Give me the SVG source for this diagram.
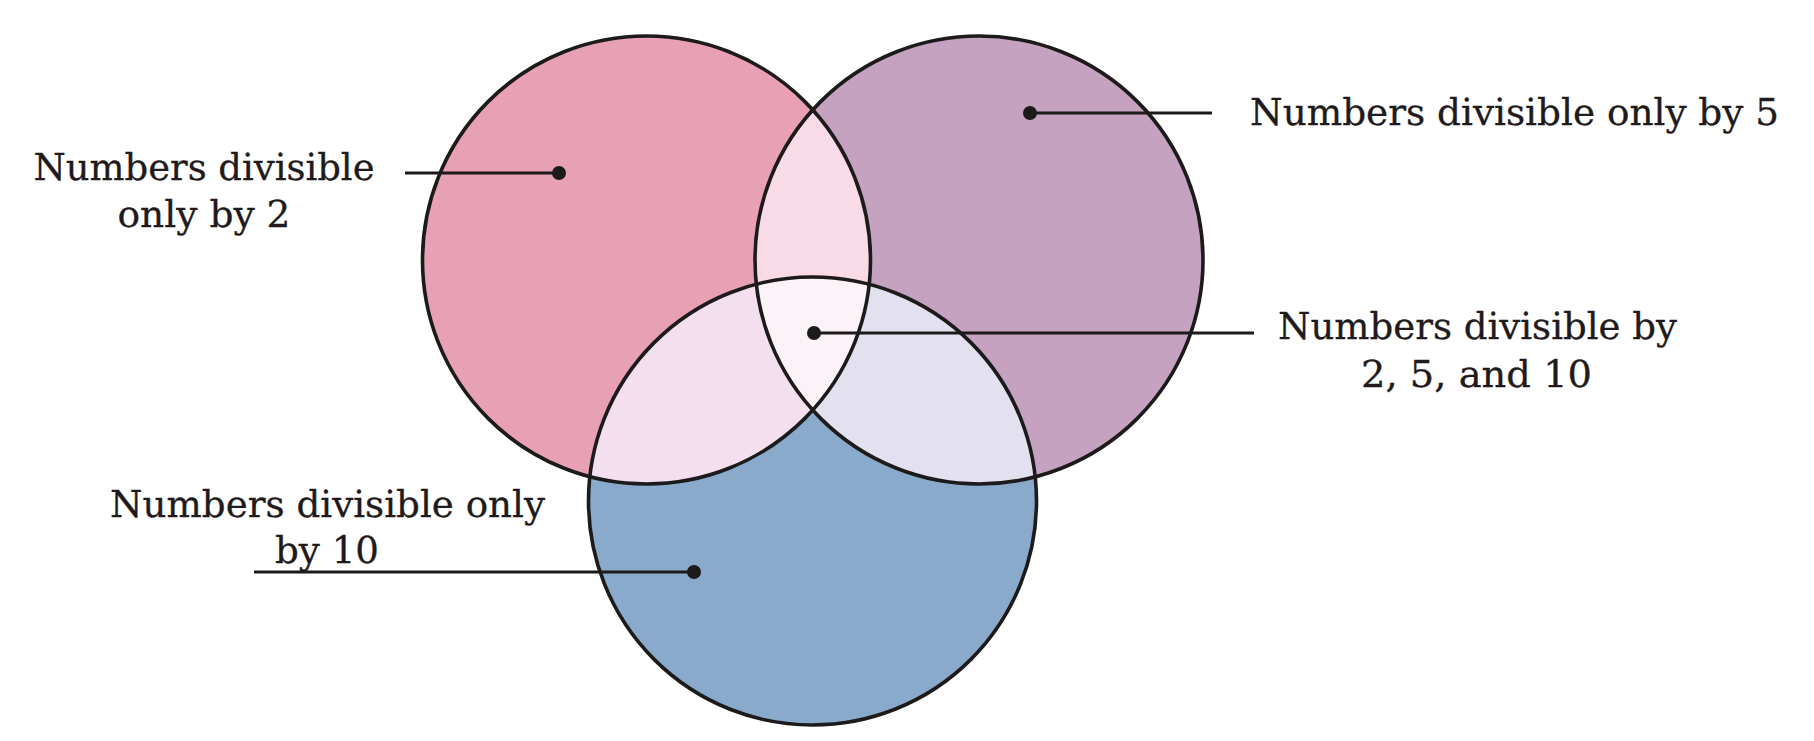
<svg xmlns="http://www.w3.org/2000/svg" width="1814" height="741" viewBox="0 0 1814 741">
<style>
.outline{fill:none;stroke:#1c1a1b;stroke-width:3.6}
.lbl{font-family:"DejaVu Serif","Liberation Serif",serif;font-size:37px;fill:#1f1b1c;stroke:#1f1b1c;stroke-width:0.3;text-anchor:middle}
.lead{stroke:#1c1a1b;stroke-width:3.2;fill:none}
.dot{fill:#1c1a1b}
</style>
<defs>
<circle id="c2" cx="646.5" cy="260" r="224"/>
<circle id="c5" cx="979" cy="260" r="224"/>
<circle id="c10" cx="812.5" cy="501" r="224"/>
<clipPath id="clip2"><use href="#c2"/></clipPath>
<clipPath id="clip5"><use href="#c5"/></clipPath>
<clipPath id="clip10"><use href="#c10"/></clipPath>
</defs>
<rect width="1814" height="741" fill="#ffffff"/>
<g id="set-2">
<use href="#c2" fill="#e8a1b4"/>
</g>
<g id="set-5">
<use href="#c5" fill="#c4a2c0"/>
</g>
<g id="set-10">
<use href="#c10" fill="#89aaca"/>
</g>
<g id="overlaps">
<g clip-path="url(#clip2)"><use href="#c5" fill="#f9dae7"/><use href="#c10" fill="#f4dfee"/></g>
<g clip-path="url(#clip5)"><use href="#c10" fill="#e3e0f0"/></g>
<g clip-path="url(#clip2)"><g clip-path="url(#clip5)"><use href="#c10" fill="#fcf3f8"/></g></g>
</g>
<g id="outlines">
<use href="#c2" class="outline"/>
<use href="#c5" class="outline"/>
<use href="#c10" class="outline"/>
</g>
<g id="connectors">
<line class="lead" x1="405" y1="173" x2="559" y2="173"/>
<circle class="dot" cx="559" cy="173" r="7"/>
<line class="lead" x1="1030" y1="113" x2="1212" y2="113"/>
<circle class="dot" cx="1030" cy="113" r="7"/>
<line class="lead" x1="814" y1="333" x2="1254" y2="333"/>
<circle class="dot" cx="814" cy="333" r="7"/>
<line class="lead" x1="254" y1="572" x2="694" y2="572"/>
<circle class="dot" cx="694" cy="572" r="7"/>
</g>
<g id="label-2">
<text class="lbl" x="204" y="180" textLength="341" lengthAdjust="spacingAndGlyphs">Numbers divisible</text>
<text class="lbl" x="204" y="227" textLength="173" lengthAdjust="spacingAndGlyphs">only by 2</text>
</g>
<g id="label-5">
<text class="lbl" x="1514.5" y="125" textLength="529" lengthAdjust="spacingAndGlyphs">Numbers divisible only by 5</text>
</g>
<g id="label-all">
<text class="lbl" x="1477.5" y="339" textLength="399" lengthAdjust="spacingAndGlyphs">Numbers divisible by</text>
<text class="lbl" x="1476.5" y="387" textLength="231" lengthAdjust="spacingAndGlyphs">2, 5, and 10</text>
</g>
<g id="label-10">
<text class="lbl" x="327.5" y="517" textLength="435" lengthAdjust="spacingAndGlyphs">Numbers divisible only</text>
<text class="lbl" x="327" y="563" textLength="104" lengthAdjust="spacingAndGlyphs">by 10</text>
</g>
</svg>
